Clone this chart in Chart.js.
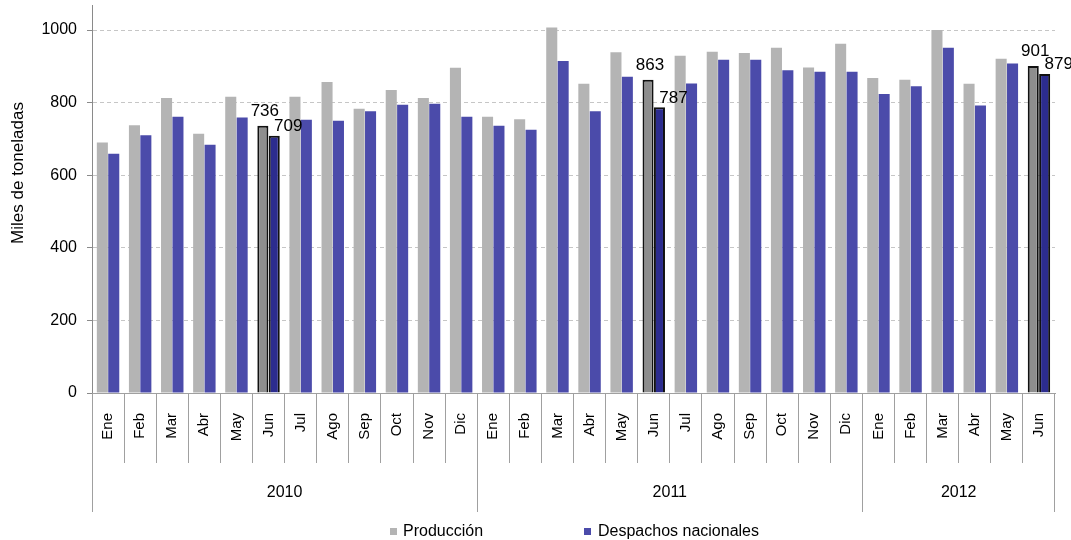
<!DOCTYPE html>
<html>
<head>
<meta charset="utf-8">
<script src="https://cdn.jsdelivr.net/npm/chart.js@4/dist/chart.umd.min.js"></script>
<style>
  html, body { margin: 0; padding: 0; background: #fff; }
  #wrap { width: 1071px; height: 540px; position: relative; }
</style>
</head>
<body>
<div id="wrap"><canvas id="chart" width="1071" height="540"></canvas></div>
<script>
// monthly cement data, thousands of tonnes
let months = ['Ene', 'Feb', 'Mar', 'Abr', 'May', 'Jun', 'Jul', 'Ago', 'Sep', 'Oct', 'Nov', 'Dic',
              'Ene', 'Feb', 'Mar', 'Abr', 'May', 'Jun', 'Jul', 'Ago', 'Sep', 'Oct', 'Nov', 'Dic',
              'Ene', 'Feb', 'Mar', 'Abr', 'May', 'Jun'];
let years = ['2010', '2011', '2012'];
let monthsPerYear = [12, 12, 6];
let produccion = [690, 738, 813, 714, 816, 736, 816, 857, 783, 835, 813, 896,
                  761, 754, 1007, 852, 939, 863, 929, 940, 937, 951, 897, 962,
                  868, 863, 1000, 852, 921, 901];
let despachos = [659, 710, 761, 684, 759, 709, 753, 750, 776, 794, 797, 761,
                 736, 725, 915, 776, 871, 787, 853, 918, 918, 889, 885, 885,
                 824, 845, 951, 792, 908, 879];
let yTicks = [0, 200, 400, 600, 800, 1000];
let yTitle = 'Miles de toneladas';
let highlightMonth = 'Jun';

const FONT = "'Liberation Sans', Arial, sans-serif";
const isHi = (i) => months[i] === highlightMonth;

let prodColors = months.map((m, i) => isHi(i) ? '#8e8e8e' : '#b4b4b4');
let despColors = months.map((m, i) => isHi(i) ? '#2c2c8e' : '#4b4baa');
let borderW = months.map((m, i) => isHi(i) ? 2 : 0);

const extras = {
    id: 'extras',
    afterDraw: (chart) => {
        const ctx = chart.ctx;
        const x = chart.scales.x;
        const area = chart.chartArea;
        ctx.save();

        // y axis title
        ctx.save();
        ctx.translate(18, 173);
        ctx.rotate(-Math.PI / 2);
        ctx.font = '17px ' + FONT;
        ctx.fillStyle = '#000';
        ctx.textAlign = 'center';
        ctx.textBaseline = 'middle';
        ctx.fillText(yTitle, 0, 0);
        ctx.restore();

        // year groups under the months
        ctx.strokeStyle = '#a0a0a0';
        ctx.lineWidth = 1;
        ctx.font = '16px ' + FONT;
        ctx.fillStyle = '#000';
        ctx.textAlign = 'center';
        ctx.textBaseline = 'middle';
        let start = 0;
        for (let k = 0; k < years.length; k++) {
            let end = start + monthsPerYear[k];
            let x0 = x.getPixelForValue(start - 0.5);
            let x1 = x.getPixelForValue(end - 0.5);
            ctx.beginPath();
            ctx.moveTo(Math.round(x0) + 0.5, area.bottom);
            ctx.lineTo(Math.round(x0) + 0.5, 512);
            ctx.stroke();
            if (k === years.length - 1) {
                ctx.beginPath();
                ctx.moveTo(Math.round(x1) - 0.5, area.bottom);
                ctx.lineTo(Math.round(x1) - 0.5, 512);
                ctx.stroke();
            }
            ctx.fillText(years[k], (x0 + x1) / 2, 493);
            start = end;
        }

        // legend
        const items = [[390, 403, 0], [584, 598, 1]];
        items.forEach(([bx, tx, d]) => {
            const ds = chart.data.datasets[d];
            ctx.fillStyle = ds.legendColor;
            ctx.fillRect(bx, 528, 7, 7);
            ctx.fillStyle = '#000';
            ctx.textAlign = 'left';
            ctx.textBaseline = 'middle';
            ctx.font = '16px ' + FONT;
            ctx.fillText(ds.label, tx, 532);
        });

        // value labels on the highlighted bars
        ctx.font = '17px ' + FONT;
        ctx.fillStyle = '#000';
        ctx.textAlign = 'center';
        ctx.textBaseline = 'bottom';
        const offs = [[2, 6], [14, 1]];
        chart.data.datasets.forEach((ds, d) => {
            chart.getDatasetMeta(d).data.forEach((bar, i) => {
                if (!isHi(i)) return;
                ctx.fillText(String(ds.data[i]), bar.x + offs[d][0], bar.y - offs[d][1]);
            });
        });
        ctx.restore();
    }
};

let chart = new Chart(document.getElementById('chart'), {
    type: 'bar',
    data: {
        labels: months,
        datasets: [
            {
                label: 'Producción',
                data: produccion,
                backgroundColor: prodColors,
                legendColor: '#b4b4b4',
                borderColor: '#111',
                borderWidth: borderW,
                categoryPercentage: 0.71,
                barPercentage: 0.97
            },
            {
                label: 'Despachos nacionales',
                data: despachos,
                backgroundColor: despColors,
                legendColor: '#4b4baa',
                borderColor: '#111',
                borderWidth: borderW,
                categoryPercentage: 0.71,
                barPercentage: 0.97
            }
        ]
    },
    options: {
        responsive: false,
        animation: false,
        layout: { padding: { top: 5, right: 16, left: 0, bottom: 0 } },
        plugins: {
            legend: { display: false },
            tooltip: { enabled: false }
        },
        scales: {
            x: {
                offset: true,
                afterFit: (s) => { s.height = 147; },
                grid: {
                    offset: true,
                    drawOnChartArea: false,
                    drawTicks: true,
                    tickLength: 70,
                    tickColor: '#a0a0a0',
                    color: '#a0a0a0'
                },
                border: { color: '#a0a0a0', width: 1 },
                ticks: {
                    autoSkip: false,
                    minRotation: 90,
                    maxRotation: 90,
                    padding: -50,
                    color: '#000',
                    font: { family: FONT, size: 15 }
                }
            },
            y: {
                min: 0,
                max: 1069,
                afterFit: (s) => { s.width = 92; s.paddingTop = 0; s.paddingBottom = 0; },
                afterBuildTicks: (s) => { s.ticks = yTicks.map(v => ({ value: v })); },
                grid: {
                    color: (c) => c.tick && c.tick.value === 0 ? 'rgba(0,0,0,0)' : '#c6c6c6',
                    tickColor: '#8a8a8a',
                    tickLength: 5,
                    tickBorderDash: []
                },
                border: { color: '#8a8a8a', width: 1, dash: [4, 3] },
                ticks: {
                    padding: 10,
                    color: '#000',
                    font: { family: FONT, size: 16 },
                    callback: (v) => String(v)
                }
            }
        }
    },
    plugins: [extras]
});
</script>
</body>
</html>
